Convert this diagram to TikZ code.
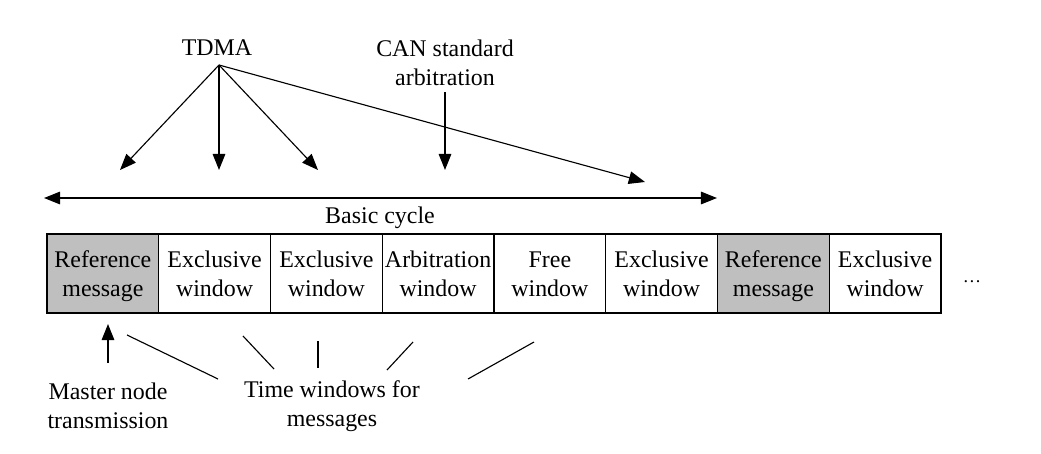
\documentclass[tikz,border=0pt]{standalone}
\usepackage{fontspec}
\setmainfont{Liberation Serif}
\usetikzlibrary{arrows.meta}

\begin{document}
\begin{tikzpicture}[
	x=0.025cm, y=-0.025cm,
	txt/.style={ align=center, inner sep=0pt, font=\fontsize{17}{20.5}\selectfont },
	win/.style={ draw, line width=1pt, fill=white, minimum width=2.794cm, minimum height=1.975cm, inner sep=0pt, align=center, font=\fontsize{17}{20.8}\selectfont, text height=33pt, text depth=0pt },
	winref/.style={ win, fill=black!25 },
	arr/.style={ line width=0.8pt, -{Triangle[length=11.5pt,width=9pt]} },
	ln/.style={ line width=0.8pt }
]
\useasboundingbox (0,0) rectangle (1041,454);

\node[winref] at (102.9,273.5) (w1) {Reference\\message};
\node[win] at (214.6,273.5) (w2) {Exclusive\\window};
\node[win] at (326.4,273.5) (w3) {Exclusive\\window};
\node[win] at (438.1,273.5) (w4) {Arbitration\\window};
\node[win] at (549.9,273.5) (w5) {Free\\window};
\node[win] at (661.6,273.5) (w6) {Exclusive\\window};
\node[winref] at (773.4,273.5) (w7) {Reference\\message};
\node[win] at (885.1,273.5) (w8) {Exclusive\\window};
\node[txt, font=\fontsize{13}{15}\selectfont] at (972,282) (more) {\ldots};

\node[txt] at (217,48) (tdma) {TDMA};
\node[txt] at (445,63) (can) {CAN standard\\arbitration};
\coordinate (tdmaroot) at (219,65);
\coordinate (t1) at (120,170);
\coordinate (t2) at (219,170);
\coordinate (t3) at (318,170);
\coordinate (t4) at (645,182);
\draw[arr] (tdmaroot) to (t1);
\draw[arr] (tdmaroot) to (t2);
\draw[arr] (tdmaroot) to (t3);
\draw[arr] (tdmaroot) to (t4);
\coordinate (canroot) at (445,92);
\coordinate (c1) at (445,170);
\draw[arr] (canroot) to (c1);

\coordinate (cycl) at (44,198);
\coordinate (cycr) at (717,198);
\draw[arr, {Triangle[length=11.5pt,width=9pt]}-{Triangle[length=11.5pt,width=9pt]}] (cycl) to (cycr);
\node[txt] at (380,218) (cycle) {Basic cycle};

\node[txt] at (108,406) (master) {Master node\\transmission};
\node[txt] at (332,406) (twin) {Time windows for\\messages};
\coordinate (m0) at (108,363);
\coordinate (m1) at (108,324);
\draw[arr] (m0) to (m1);
\draw[ln] (127,335) to (218,379);
\draw[ln] (243,336) to (274,369);
\draw[ln] (318,341) to (318,368);
\draw[ln] (413,342) to (387,370);
\draw[ln] (534,342) to (468,379);

\end{tikzpicture}
\end{document}
